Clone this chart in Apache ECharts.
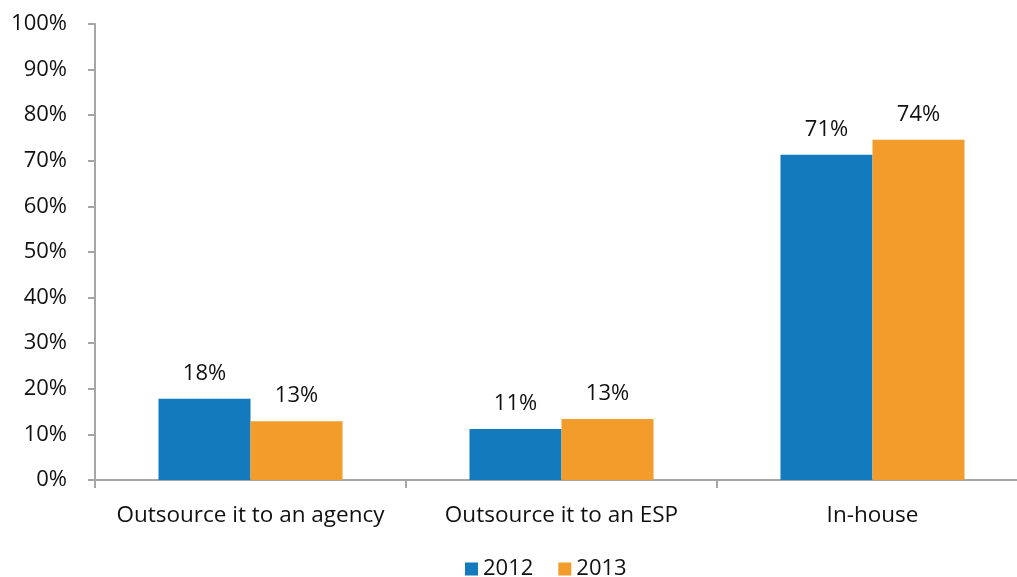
<!DOCTYPE html>
<html>
<head>
<meta charset="utf-8">
<script src="https://cdn.jsdelivr.net/npm/echarts@6/dist/echarts.min.js"></script>
<style>
  html, body { margin: 0; padding: 0; background: #fff; overflow: hidden; }
  #chart { width: 1028px; height: 577px; }
</style>
</head>
<body>
<div id="chart"></div>
<script>
const categories = ["Outsource it to an agency", "Outsource it to an ESP", "In-house"];
const values2012 = [17.8, 11.2, 71.3];
const values2013 = [12.9, 13.4, 74.6];
const labels2012 = ["18%", "11%", "71%"];
const labels2013 = ["13%", "13%", "74%"];

const chart = echarts.init(document.getElementById("chart"));
const font = "'Open Sans', sans-serif";

const option = {
  animation: false,
  textStyle: { fontFamily: font },
  // the axis runs a little past the right edge of the window, as in the original
  grid: { left: 95, right: 0, top: 24, bottom: 97 },
  legend: {
    top: 553,
    left: 460,
    itemWidth: 13,
    itemHeight: 13,
    itemGap: 25,
    icon: "rect",
    textStyle: { fontSize: 22, color: "#111", fontFamily: font },
    data: ["2012", "2013"],
  },
  xAxis: {
    type: "category",
    data: categories,
    axisLine: { lineStyle: { color: "#a6a6a6", width: 2 } },
    axisTick: { show: true, length: 8, lineStyle: { color: "#a6a6a6", width: 2 } },
    axisLabel: { interval: 0, fontSize: 22.5, color: "#111", margin: 24, fontFamily: font },
  },
  yAxis: {
    type: "value",
    min: 0,
    max: 100,
    interval: 10,
    splitLine: { show: false },
    axisLine: { show: true, lineStyle: { color: "#a6a6a6", width: 2 } },
    axisTick: { show: true, length: 7, lineStyle: { color: "#a6a6a6", width: 2 } },
    axisLabel: { fontSize: 22, color: "#111", margin: 28, formatter: "{value}%", fontFamily: font },
  },
  series: [
    {
      name: "2012",
      type: "bar",
      data: values2012,
      barWidth: 92,
      barGap: "0%",
      itemStyle: { color: "#137abe" },
      label: {
        show: true,
        position: "top",
        distance: 14,
        fontSize: 22,
        color: "#111",
        fontFamily: font,
        formatter: (p) => labels2012[p.dataIndex],
      },
    },
    {
      name: "2013",
      type: "bar",
      data: values2013,
      barWidth: 92,
      barGap: "0%",
      itemStyle: { color: "#f29c2b" },
      label: {
        show: true,
        position: "top",
        distance: 14,
        fontSize: 22,
        color: "#111",
        fontFamily: font,
        formatter: (p) => labels2013[p.dataIndex],
      },
    },
  ],
};
chart.setOption(option);
</script>
</body>
</html>
